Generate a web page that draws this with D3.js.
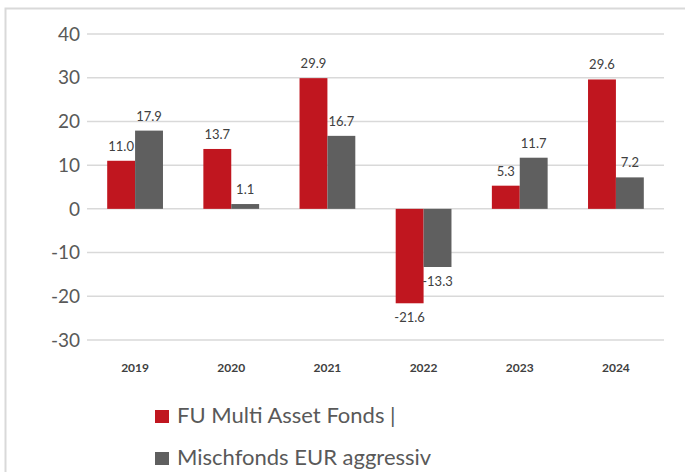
<!DOCTYPE html>
<html>
<head>
<meta charset="utf-8">
<script src="https://cdn.jsdelivr.net/npm/d3@7"></script>
<style>
  body { margin: 0; background: #fff; }
  svg { display: block; font-family: Lato, "Open Sans", sans-serif; }
</style>
</head>
<body>
<svg id="chart" width="685" height="472"></svg>
<script>
// chart data
var years = ["2019", "2020", "2021", "2022", "2023", "2024"];
var fondsValues = [11.0, 13.7, 29.9, -21.6, 5.3, 29.6];
var mischValues = [17.9, 1.1, 16.7, -13.3, 11.7, 7.2];
var seriesNames = ["FU Multi Asset Fonds |", "Mischfonds EUR aggressiv"];
var yTicks = [40, 30, 20, 10, 0, -10, -20, -30];

var COLORS = ["#c0161f", "#5f5f5f"];

var svg = d3.select("#chart");

// outer frame
svg.append("rect")
    .attr("x", 5.5).attr("y", 8.5)
    .attr("width", 720).attr("height", 520)
    .attr("fill", "none")
    .attr("stroke", "#d9d9d9")
    .attr("stroke-width", 2);

var plotLeft = 87, plotRight = 664, plotTop = 34, plotBottom = 340;

var y = d3.scaleLinear().domain([-30, 40]).range([plotBottom, plotTop]);
var x = d3.scaleBand().domain(years).range([plotLeft, plotRight]).paddingInner(0.42).paddingOuter(0.21);
var xs = d3.scaleBand().domain([0, 1]).range([0, x.bandwidth()]);

// gridlines
svg.append("g").selectAll("line")
    .data(yTicks)
    .join("line")
    .attr("x1", plotLeft).attr("x2", plotRight)
    .attr("y1", d => y(d)).attr("y2", d => y(d))
    .attr("stroke", "#d9d9d9")
    .attr("stroke-width", 1.5);

// y tick labels
svg.append("g").selectAll("text")
    .data(yTicks)
    .join("text")
    .attr("x", 80)
    .attr("y", d => y(d))
    .attr("dy", "0.35em")
    .attr("text-anchor", "end")
    .attr("font-size", 19)
    .attr("fill", "#595959")
    .text(d => d);

// x labels
svg.append("g").selectAll("text")
    .data(years)
    .join("text")
    .attr("x", d => x(d) + x.bandwidth() / 2)
    .attr("y", 372)
    .attr("text-anchor", "middle")
    .attr("font-size", 12)
    .attr("font-weight", "bold")
    .attr("fill", "#404040")
    .text(d => d);

var series = [fondsValues, mischValues];

series.forEach(function(vals, si) {
    var g = svg.append("g");
    g.selectAll("rect")
        .data(vals)
        .join("rect")
        .attr("x", (d, i) => x(years[i]) + xs(si))
        .attr("width", xs.bandwidth())
        .attr("y", d => y(Math.max(0, d)))
        .attr("height", d => Math.abs(y(d) - y(0)))
        .attr("fill", COLORS[si]);

    g.selectAll("text")
        .data(vals)
        .join("text")
        .attr("x", (d, i) => x(years[i]) + xs(si) + xs.bandwidth() / 2)
        .attr("y", d => d >= 0 ? y(d) - 10 : y(d) + 19)
        .attr("text-anchor", "middle")
        .attr("font-size", 13)
        .attr("fill", "#404040")
        .text(d => d.toFixed(1));
});

// legend
var legend = svg.append("g").selectAll("g")
    .data(seriesNames)
    .join("g")
    .attr("transform", (d, i) => "translate(155," + (423 + i * 42) + ")");

legend.append("rect")
    .attr("x", 0).attr("y", -13)
    .attr("width", 14).attr("height", 13)
    .attr("fill", (d, i) => COLORS[i]);

legend.append("text")
    .attr("x", 22)
    .attr("y", 0)
    .attr("font-size", 22)
    .attr("fill", "#595959")
    .text(d => d);
</script>
</body>
</html>
